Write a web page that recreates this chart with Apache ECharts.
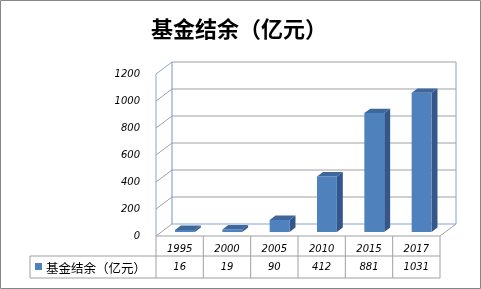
<!DOCTYPE html>
<html><head><meta charset="utf-8">
<script src="https://cdn.jsdelivr.net/npm/echarts@6/dist/echarts.min.js"></script>
<style>html,body{margin:0;padding:0;background:#fff}#c{width:481px;height:289px}</style>
</head><body><div id="c"></div>
<script>
const titleText = '基金结余（亿元）';
const seriesName = '基金结余（亿元）';
const categories = ['1995', '2000', '2005', '2010', '2015', '2017'];
const values = [16, 19, 90, 412, 881, 1031];
const yTicks = [0, 200, 400, 600, 800, 1000, 1200];

const DX = 16, DY = 12;            // 3D depth offset of the wall
const F0 = 0.33, BD = 0.37;         // bar front plane / bar depth as fraction of wall depth
const GRID_C = '#A0A0A0', EDGE_C = '#86A5D6', TABLE_C = '#A0A0A0';
const FRONT = '#4F81BD', SIDE = '#34568A', TOP = '#3E679C';
const numFont = 'DejaVu Sans, Verdana, sans-serif';
const cjkFont = '"Noto Sans CJK SC", sans-serif';

const chart = echarts.init(document.getElementById('c'), null, {renderer: 'canvas'});

function line(x1, y1, x2, y2, c) {
  return {type: 'line', shape: {x1, y1, x2, y2}, style: {stroke: c, lineWidth: 1}, silent: true};
}

const option = {
  animation: false,
  title: {
    text: titleText, left: 146, top: 13,
    textStyle: {fontFamily: cjkFont, fontSize: 22, fontWeight: 'bold', color: '#000'}
  },
  graphic: [{type: 'rect', shape: {x: 0.5, y: 0.5, width: 480, height: 288}, style: {fill: 'none', stroke: '#868686', lineWidth: 1}, z: 100}],
  grid: {left: 156, top: 74, width: 284, height: 162},
  xAxis: {type: 'category', data: categories, axisLine: {show: false}, axisTick: {show: false}, axisLabel: {show: false}},
  yAxis: {
    type: 'value', min: 0, max: 1200, interval: 200,
    axisLine: {show: false}, axisTick: {show: false}, splitLine: {show: false},
    axisLabel: {margin: 16, formatter: v => String(v), fontFamily: numFont, fontSize: 10, fontStyle: 'italic', color: '#000'}
  },
  series: [
    { // walls
      type: 'custom', z: 1,
      data: yTicks.map(v => [0, v]),
      renderItem: function (params, api) {
        const cs = params.coordSys;
        const L = cs.x, R = cs.x + cs.width, B = cs.y + cs.height, T = cs.y;
        const v = api.value(1);
        const y = api.coord([0, v])[1];
        const ch = [];
        ch.push(line(L + DX, y - DY, R + DX, y - DY, v === 0 ? EDGE_C : GRID_C));
        ch.push(line(L, y, L + DX, y - DY, v === 1200 ? EDGE_C : GRID_C));
        if (v === 0) {
          ch.push(line(R + DX, y - DY, R, y, GRID_C));
          ch.push(line(L, T, L, B, EDGE_C));
          ch.push(line(L + DX, T - DY, L + DX, B - DY, '#6F93CC'));
          ch.push(line(R + DX, T - DY, R + DX, B - DY, EDGE_C));
        }
        return {type: 'group', children: ch};
      }
    },
    { // 3D bars
      type: 'custom', name: seriesName, z: 3,
      data: values.map((v, i) => [i, v]),
      renderItem: function (params, api) {
        const i = api.value(0), v = api.value(1);
        const base = api.coord([i, 0]);
        const top = api.coord([i, v]);
        const catW = api.size([1, 0])[0];
        const w = catW * 0.42;
        const ox = F0 * DX, oy = F0 * DY;
        const bdx = BD * DX, bdy = BD * DY;
        const xl = base[0] - w / 2 + ox, xr = base[0] + w / 2 + ox;
        const yb = base[1] - oy, yt = top[1] - oy;
        return {type: 'group', children: [
          {type: 'polygon', shape: {points: [[xr, yt], [xr + bdx, yt - bdy], [xr + bdx, yb - bdy], [xr, yb]]}, style: {fill: SIDE}},
          {type: 'rect', shape: {x: xl, y: yt, width: xr - xl, height: yb - yt}, style: {fill: FRONT}},
          {type: 'polygon', shape: {points: [[xl, yt], [xr, yt], [xr + bdx, yt - bdy], [xl + bdx, yt - bdy]]}, style: {fill: TOP}}
        ]};
      }
    },
    { // data table
      type: 'custom', z: 4,
      data: categories.map((c, i) => [i, values[i]]),
      renderItem: function (params, api) {
        const cs = params.coordSys;
        const i = api.value(0);
        const catW = api.size([1, 0])[0];
        const xc = api.coord([i, 0])[0];
        const B = cs.y + cs.height;
        const r1 = B, r2 = B + 20, r3 = B + 42;
        const x0 = xc - catW / 2, x1 = xc + catW / 2;
        const ch = [
          line(x0, r1, x1, r1, TABLE_C), line(x0, r2, x1, r2, TABLE_C), line(x0, r3, x1, r3, TABLE_C),
          line(x1, r1, x1, r3, TABLE_C),
          {type: 'text', style: {text: categories[i], x: xc, y: r1 + 13, align: 'center', verticalAlign: 'middle', fontFamily: numFont, fontSize: 10, fontStyle: 'italic', fill: '#000'}},
          {type: 'text', style: {text: String(api.value(1)), x: xc, y: r2 + 11.5, align: 'center', verticalAlign: 'middle', fontFamily: numFont, fontSize: 10, fontStyle: 'italic', fill: '#000'}}
        ];
        if (i === 0) {
          const lx = 30;
          ch.push(line(x0, r1, x0, r3, TABLE_C));
          ch.push(line(lx, r2, x0, r2, TABLE_C), line(lx, r3, x0, r3, TABLE_C), line(lx, r2, lx, r3, TABLE_C));
          ch.push({type: 'rect', shape: {x: lx + 5, y: r2 + 7, width: 7, height: 7}, style: {fill: FRONT}});
          ch.push({type: 'text', style: {text: seriesName, x: lx + 16, y: r2 + 12, align: 'left', verticalAlign: 'middle', fontFamily: cjkFont, fontSize: 12.5, fill: '#000'}});
        }
        return {type: 'group', children: ch};
      }
    }
  ]
};
chart.setOption(option);
</script></body></html>
